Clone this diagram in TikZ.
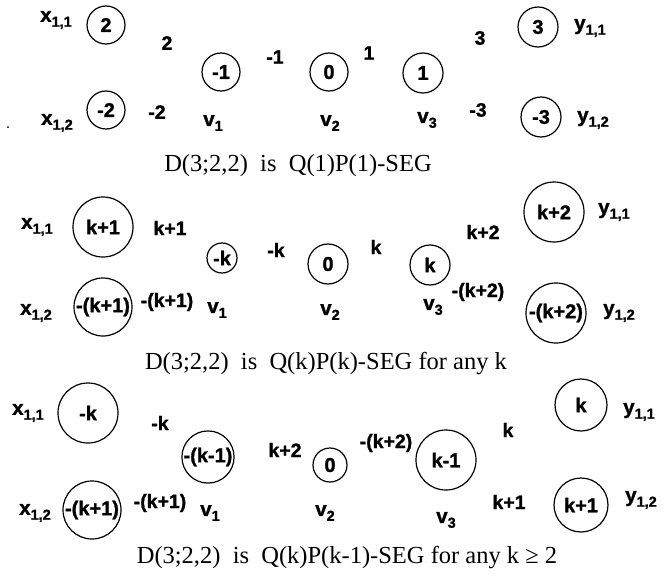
\documentclass[tikz,border=0pt]{standalone}
\usepackage{fontspec}
\setmainfont{Liberation Serif}
\newfontfamily\labfont{Liberation Sans}[UprightFont=* Bold, FakeBold=1.2]
\newcommand\vlab[2]{#1\raisebox{-0.45ex}{\fontsize{14.5}{14.5}\selectfont #2}}
\begin{document}
\begin{tikzpicture}[x=1pt,y=-1pt,
  vtx/.style={draw,circle,line width=1.2pt,inner sep=0pt,font=\labfont\fontsize{20}{22}\selectfont},
  lbl/.style={inner sep=0pt,font=\labfont\fontsize{20.5}{22}\selectfont},
  elab/.style={inner sep=0pt,font=\labfont\fontsize{19.5}{21}\selectfont},
  captext/.style={inner sep=0pt,font=\fontsize{24.5}{28}\selectfont}]
\useasboundingbox (0,0) rectangle (672,578);

% ---------- section 1 ----------
\node[lbl] (ax11) at (56,20) {\vlab{x}{1,1}};
\node[vtx,minimum size=38pt] (ac2) at (106,25) {2};
\node[elab] (ae2) at (167,43) {2};
\node[vtx,minimum size=38pt] (acm1) at (221,72) {-1};
\node[elab] (aem1) at (275,57) {-1};
\node[vtx,minimum size=38pt] (ac0) at (329,72) {0};
\node[elab] (ae1) at (369,53) {1};
\node[vtx,minimum size=40pt] (ac1) at (423,73) {1};
\node[elab] (ae3) at (480,38) {3};
\node[vtx,minimum size=40pt] (ac3) at (538,27) {3};
\node[lbl] (ay11) at (590,28) {\vlab{y}{1,1}};
\node[lbl] (ax12) at (57,123) {\vlab{x}{1,2}};
\node[vtx,minimum size=38pt] (acm2) at (106,110) {-2};
\node[elab] (aem2) at (157,112) {-2};
\node[lbl] (av1) at (213,123) {\vlab{v}{1}};
\node[lbl] (av2) at (330,123) {\vlab{v}{2}};
\node[lbl] (av3) at (427,120) {\vlab{v}{3}};
\node[elab] (aem3) at (478,110) {-3};
\node[vtx,minimum size=40pt] (acm3) at (541,117) {-3};
\node[lbl] (ay12) at (593,120) {\vlab{y}{1,2}};
\node[captext] (cap1) at (298,166) {D(3;2,2)\ \ is\ \ Q(1)P(1)-SEG};
\fill (8,127) circle (1pt);

% ---------- section 2 ----------
\node[lbl] (bx11) at (37,227) {\vlab{x}{1,1}};
\node[vtx,minimum size=60pt] (bck1) at (103,227) {k+1};
\node[elab] (bek1) at (170,228) {k+1};
\node[vtx,minimum size=30pt] (bcmk) at (222,258) {-k};
\node[elab] (bemk) at (276,250) {-k};
\node[vtx,minimum size=40pt] (bc0) at (328,264) {0};
\node[elab] (bek) at (376,247) {k};
\node[vtx,minimum size=40pt] (bck) at (430,265) {k};
\node[elab] (bek2) at (483,232) {k+2};
\node[vtx,minimum size=60pt] (bck2) at (554,212) {k+2};
\node[lbl] (by11) at (614,212) {\vlab{y}{1,1}};
\node[lbl] (bx12) at (36,313) {\vlab{x}{1,2}};
\node[vtx,minimum size=58pt] (bcmk1) at (103,307) {-(k+1)};
\node[elab] (bemk1) at (167,302) {-(k+1)};
\node[lbl] (bv1) at (217,310) {\vlab{v}{1}};
\node[lbl] (bv2) at (330,312) {\vlab{v}{2}};
\node[lbl] (bv3) at (433,307) {\vlab{v}{3}};
\node[elab] (bemk2) at (478,292) {-(k+2)};
\node[vtx,minimum size=60pt] (bcmk2) at (556,313) {-(k+2)};
\node[lbl] (by12) at (619,313) {\vlab{y}{1,2}};
\node[captext] (cap2) at (326,364) {D(3;2,2)\ \ is\ \ Q(k)P(k)-SEG for any k};

% ---------- section 3 ----------
\node[lbl] (cx11) at (28,413) {\vlab{x}{1,1}};
\node[vtx,minimum size=60pt] (ccmk) at (88,413) {-k};
\node[elab] (cemk) at (160,423) {-k};
\node[vtx,minimum size=48pt] (ccmk1) at (208,457) {-(k-1)};
\node[elab] (cek2) at (285,450) {k+2};
\node[vtx,minimum size=34pt] (cc0) at (330,465) {0};
\node[elab] (cemk2) at (386,443) {-(k+2)};
\node[vtx,minimum size=60pt] (cckm1) at (446,460) {k-1};
\node[elab] (cek) at (508,430) {k};
\node[vtx,minimum size=52pt] (cck) at (581,405) {k};
\node[lbl] (cy11) at (639,412) {\vlab{y}{1,1}};
\node[lbl] (cx12) at (35,513) {\vlab{x}{1,2}};
\node[vtx,minimum size=58pt] (ccmk1b) at (92,510) {-(k+1)};
\node[elab] (cemk1) at (160,503) {-(k+1)};
\node[lbl] (cv1) at (210,513) {\vlab{v}{1}};
\node[lbl] (cv2) at (325,513) {\vlab{v}{2}};
\node[lbl] (cv3) at (446,520) {\vlab{v}{3}};
\node[elab] (cek1) at (509,502) {k+1};
\node[vtx,minimum size=54pt] (cck1) at (581,505) {k+1};
\node[lbl] (cy12) at (641,500) {\vlab{y}{1,2}};
\node[captext] (cap3) at (347,558) {D(3;2,2)\ \ is\ \ Q(k)P(k-1)-SEG for any k ≥ 2};
\end{tikzpicture}
\end{document}
